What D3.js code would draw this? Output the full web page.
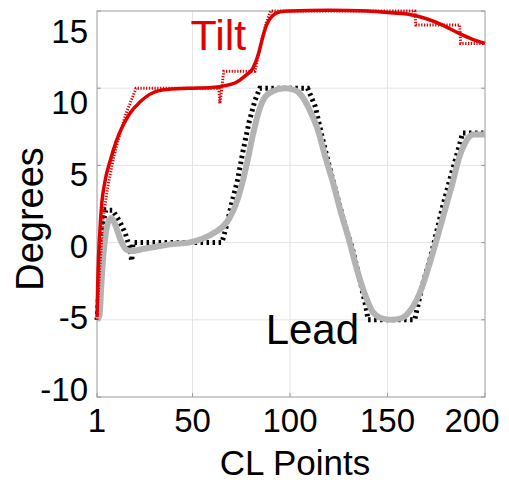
<html>
<head>
<style>
  html, body { margin: 0; padding: 0; background: #fff; }
  svg { font-family: "Liberation Sans", Arial, sans-serif; }
</style>
</head>
<body>
<div id="chart"></div>
<script src="https://cdn.jsdelivr.net/npm/d3@7"></script>
<script>

// tick values
var xTicks = [1, 50, 100, 150, 200];
var yTicks = [-10, -5, 0, 5, 10, 15];

// Tilt, smooth (red solid)
var tiltX = [1, 1.5, 2.5, 3.5, 5, 8, 11, 14, 18, 23, 28, 35, 48, 60, 66, 72, 77, 81, 84, 86, 88, 91, 95, 100, 120, 140, 150, 160, 170, 178, 186, 193, 200];
var tiltY = [-4.8, -2, 0.8, 2.6, 3.9, 5.4, 6.6, 7.5, 8.4, 9.1, 9.6, 9.9, 10.0, 10.05, 10.15, 10.35, 10.8, 11.3, 12.3, 13.3, 14.1, 14.7, 14.95, 15, 15.05, 15, 14.9, 14.8, 14.5, 14.1, 13.6, 13.2, 12.9];

// Tilt, reference (red dotted)
var tiltRefX = [1, 2.5, 4, 6.5, 9.5, 12.8, 16, 19.5, 21, 63.5, 64, 65, 66, 82, 84, 86, 88, 90, 164, 164.5, 187, 187.5, 200];
var tiltRefY = [-5, -1.5, 1.5, 3.6, 5.5, 7.1, 8.4, 9.5, 10, 10, 9.0, 10, 11.1, 11.1, 12.3, 13.4, 14.3, 15, 15, 14.1, 14.1, 12.9, 12.9];

// Lead, smooth (grey solid)
var leadX = [1, 2.3, 3.2, 4.2, 5.5, 7, 8.5, 10.5, 13, 16, 19, 25, 32, 40, 48, 55, 62, 66, 69, 72, 75, 78, 81, 84, 87, 91, 97, 102, 106, 110, 114, 118, 122, 126, 130, 134, 138, 142, 147, 152, 157, 161, 165, 168, 171, 175, 179, 183, 187, 190, 194, 200];
var leadY = [-5, -4.7, -2.8, -0.9, 0.6, 1.4, 1.6, 1.1, 0.2, -0.45, -0.55, -0.4, -0.25, -0.1, 0, 0.25, 0.7, 1.1, 1.6, 2.4, 3.6, 5.2, 7.0, 8.5, 9.4, 9.8, 10, 9.9, 9.5, 8.6, 7.4, 5.6, 3.9, 2.0, 0.3, -1.6, -3.2, -4.4, -4.9, -5.0, -4.9, -4.5, -3.7, -2.8, -1.6, 0.1, 1.9, 3.7, 5.6, 6.5, 7.0, 7.0];

// Lead, reference (black dotted)
var leadRefX = [1, 3, 4.5, 5.5, 9, 12.5, 15.5, 17.5, 18.8, 19.5, 65, 66, 68, 70, 73, 76, 79, 82, 84.5, 109, 110, 113, 116, 120, 124, 128, 132, 136, 139, 140, 164, 165, 168, 172, 175, 178, 182, 186, 188.5, 200];
var leadRefY = [-5, -1, 1.5, 2.1, 2.1, 1.4, 0.6, -0.2, -1.2, 0, 0, 0.4, 1.4, 2.5, 4.0, 6.0, 7.8, 9.2, 10, 10, 9.7, 8.8, 7.1, 5.0, 3.1, 1.2, -0.4, -2.5, -4.2, -5, -5, -4.4, -2.7, -1.0, 0.6, 2.2, 4.1, 5.9, 7.1, 7.1];

var width = 509, height = 483;
var red = "#e00000";

var svg = d3.select("#chart").append("svg")
  .attr("width", width)
  .attr("height", height);

var x = d3.scaleLinear().domain([1, 200]).range([97, 485]);
var y = d3.scaleLinear().domain([-10, 15]).range([397, 11]);
// tick labels in the original sit a bit squeezed inside the axis span
var yLab = d3.scaleLinear().domain([-10, 15]).range([389, 31]);

// grid
svg.append("g")
  .selectAll("line")
  .data(xTicks)
  .join("line")
    .attr("x1", d => x(d)).attr("x2", d => x(d))
    .attr("y1", y(-10)).attr("y2", y(15))
    .attr("stroke", "#e4e4e4").attr("stroke-width", 1);

svg.append("g")
  .selectAll("line")
  .data(yTicks)
  .join("line")
    .attr("x1", x(1)).attr("x2", x(200))
    .attr("y1", d => y(d)).attr("y2", d => y(d))
    .attr("stroke", "#e4e4e4").attr("stroke-width", 1);

// box
svg.append("rect")
  .attr("x", x(1)).attr("y", y(15))
  .attr("width", x(200) - x(1)).attr("height", y(-10) - y(15))
  .attr("fill", "none").attr("stroke", "#a8a8a8").attr("stroke-width", 1);

// inward ticks
var tk = svg.append("g").attr("stroke", "#999").attr("stroke-width", 1);
tk.selectAll(".tl").data(yTicks).join("line")
  .attr("x1", x(1)).attr("x2", x(1) + 4)
  .attr("y1", d => y(d)).attr("y2", d => y(d));
tk.selectAll(".tr").data(yTicks).join("line")
  .attr("x1", x(200)).attr("x2", x(200) - 4)
  .attr("y1", d => y(d)).attr("y2", d => y(d));
tk.selectAll(".tb").data(xTicks).join("line")
  .attr("x1", d => x(d)).attr("x2", d => x(d))
  .attr("y1", y(-10)).attr("y2", y(-10) - 4);

// lines
function pts(xs, ys) { return xs.map((v, i) => [v, ys[i]]); }

var smooth = d3.line().x(d => x(d[0])).y(d => y(d[1])).curve(d3.curveMonotoneX);
var straight = d3.line().x(d => x(d[0])).y(d => y(d[1]));

svg.append("path")
  .attr("d", straight(pts(leadRefX, leadRefY)))
  .attr("fill", "none").attr("stroke", "#000")
  .attr("stroke-width", 5).attr("stroke-dasharray", "2.5 3.5");

svg.append("path")
  .attr("d", smooth(pts(leadX, leadY)))
  .attr("fill", "none").attr("stroke", "#b3b3b3")
  .attr("stroke-width", 6).attr("stroke-linejoin", "round");

svg.append("path")
  .attr("d", straight(pts(tiltRefX, tiltRefY)))
  .attr("fill", "none").attr("stroke", red)
  .attr("stroke-width", 3).attr("stroke-dasharray", "1.3 1.5");

svg.append("path")
  .attr("d", smooth(pts(tiltX, tiltY)))
  .attr("fill", "none").attr("stroke", red)
  .attr("stroke-width", 3.5).attr("stroke-linejoin", "round");

// tick labels
svg.append("g")
  .style("font-size", "33px")
  .selectAll("text")
  .data(yTicks)
  .join("text")
    .attr("x", 88)
    .attr("y", d => yLab(d))
    .attr("dy", "0.36em")
    .attr("text-anchor", "end")
    .text(d => d);

svg.append("g")
  .style("font-size", "33px")
  .selectAll("text")
  .data(xTicks)
  .join("text")
    .attr("x", d => Math.min(x(d), width - 37))
    .attr("y", 432)
    .attr("text-anchor", "middle")
    .text(d => d);

// axis titles
svg.append("text")
  .attr("x", 295).attr("y", 475)
  .attr("text-anchor", "middle")
  .style("font-size", "35px")
  .text("CL Points");

svg.append("text")
  .attr("transform", "translate(43,219) rotate(-90)")
  .attr("text-anchor", "middle")
  .style("font-size", "38px")
  .text("Degrees");

// series labels
svg.append("text")
  .attr("x", x(49)).attr("y", 50)
  .style("font-size", "43px")
  .attr("fill", red)
  .text("Tilt");

svg.append("text")
  .attr("x", x(87.5)).attr("y", 344)
  .style("font-size", "42px")
  .attr("fill", "#000")
  .text("Lead");

</script>
</body>
</html>
